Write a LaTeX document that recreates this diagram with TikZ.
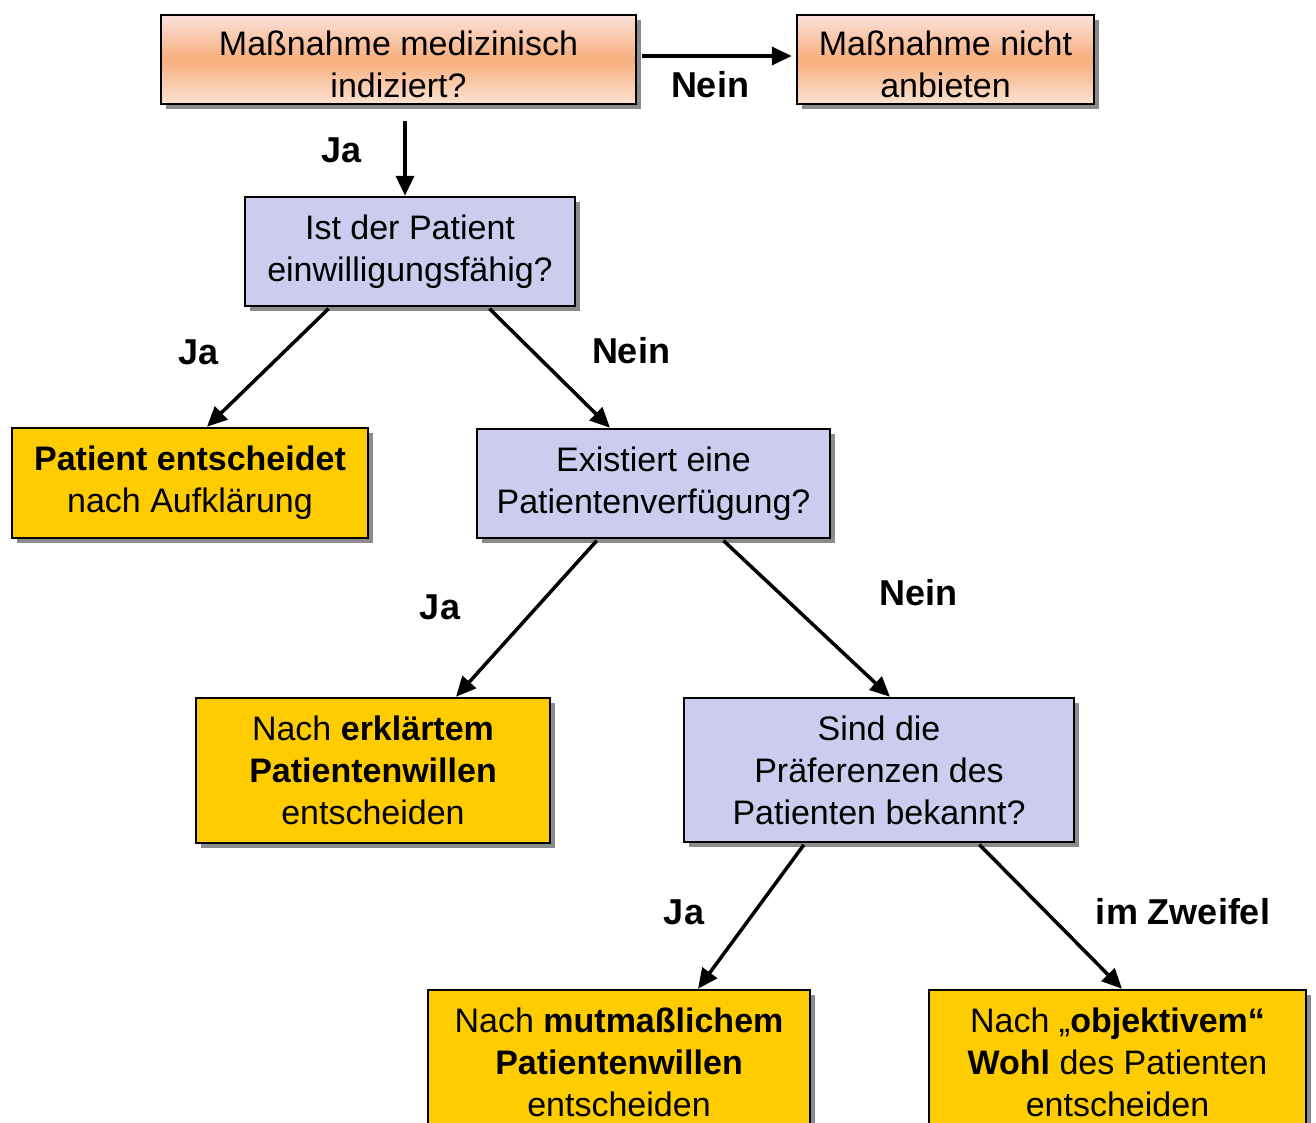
\documentclass[tikz,border=0pt]{standalone}
\usepackage{fontspec}
\setmainfont{Liberation Sans}
\usetikzlibrary{arrows.meta,shadows}
\definecolor{lav}{RGB}{204,204,238}
\definecolor{gold}{RGB}{255,204,0}
\definecolor{peachtop}{RGB}{251,226,220}
\definecolor{peachmid}{RGB}{247,174,124}
\definecolor{peachbot}{RGB}{252,226,210}
\definecolor{shadowgrey}{RGB}{110,110,110}
\tikzset{
  box/.style={draw=black, line width=2.5pt, align=center, inner sep=0pt,
    font=\fontsize{34}{42}\selectfont,
    drop shadow={shadow xshift=5pt, shadow yshift=-5pt, fill=shadowgrey, opacity=0.8}},
  peachbox/.style={box, top color=peachtop, bottom color=peachbot, middle color=peachmid},
  lavbox/.style={box, fill=lav},
  goldbox/.style={box, fill=gold},
  arr/.style={line width=3.5pt, -{Triangle[length=20pt,width=18pt]}},
  lbl/.style={font=\fontsize{36}{42}\bfseries\selectfont, inner sep=0pt}
}
\begin{document}
\begin{tikzpicture}[x=1pt,y=-1pt]
\useasboundingbox (0,0) rectangle (1316,1122);
\clip (0,0) rectangle (1316,1122);
\fill[white] (0,0) rectangle (1316,1122);

\node[peachbox, minimum width=475pt, minimum height=89pt] (A) at (398.5,59.5) {\rule{0pt}{35pt}Maßnahme medizinisch\\indiziert?};
\node[peachbox, minimum width=297pt, minimum height=89pt] (B) at (945.5,59.5) {\rule{0pt}{35pt}Maßnahme nicht\\anbieten};
\node[lavbox, minimum width=330pt, minimum height=109pt] (C) at (410,251.5) {Ist der Patient\\einwilligungsfähig?};
\node[goldbox, minimum width=356pt, minimum height=110pt] (D) at (190,483) {\textbf{Patient entscheidet}\\nach Aufklärung};
\node[lavbox, minimum width=353pt, minimum height=109pt] (E) at (653.5,483.5) {Existiert eine\\Patientenverfügung?};
\node[goldbox, minimum width=354pt, minimum height=145pt] (F) at (373,770.5) {Nach \textbf{erklärtem}\\\textbf{Patientenwillen}\\entscheiden};
\node[lavbox, minimum width=390pt, minimum height=144pt] (G) at (879,770) {Sind die\\Präferenzen des\\Patienten bekannt?};
\node[goldbox, minimum width=382pt, minimum height=144pt] (H) at (619,1062) {Nach \textbf{mutmaßlichem}\\\textbf{Patientenwillen}\\entscheiden};
\node[goldbox, minimum width=377pt, minimum height=144pt] (I) at (1117.5,1062) {Nach „\textbf{objektivem“}\\\textbf{Wohl} des Patienten\\entscheiden};

\draw[arr, shorten <=5pt, shorten >=4pt] ([yshift=3.5pt]A.east) -- ([yshift=3.5pt]B.west);
\draw[arr, shorten <=16pt] ([xshift=6.5pt]A.south) -- ([xshift=-5pt]C.north);
\draw[arr, shorten <=2pt] ([xshift=-80pt]C.south) -- ([xshift=17pt]D.north);
\draw[arr, shorten <=2pt] ([xshift=78pt]C.south) -- ([xshift=-43.5pt]E.north);
\draw[arr, shorten <=2pt] ([xshift=-55.5pt]E.south) -- ([xshift=83pt]F.north);
\draw[arr, shorten <=2pt] ([xshift=68.5pt]E.south) -- ([xshift=11pt]G.north);
\draw[arr, shorten <=2pt] ([xshift=-74pt]G.south) -- ([xshift=79pt]H.north);
\draw[arr, shorten <=2pt] ([xshift=99pt]G.south) -- ([xshift=4.5pt]I.north);

\node[lbl] (l1) at (710,85) {Nein};
\node[lbl] (l2) at (342,150) {Ja};
\node[lbl] (l3) at (199,352) {Ja};
\node[lbl] (l4) at (631,351) {Nein};
\node[lbl] (l5) at (440,607) {Ja};
\node[lbl] (l6) at (918,593) {Nein};
\node[lbl] (l7) at (684,912) {Ja};
\node[lbl] (l8) at (1183,912) {im Zweifel};
\end{tikzpicture}
\end{document}
